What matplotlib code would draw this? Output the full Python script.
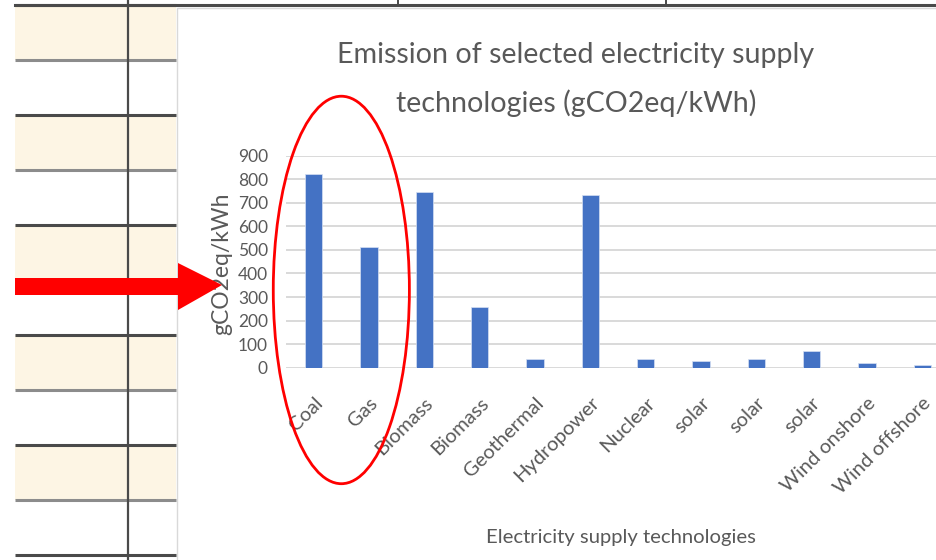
import matplotlib
matplotlib.use('Agg')
import matplotlib.pyplot as plt
from matplotlib.patches import Rectangle, Polygon, Ellipse

# data
technologies = ['Coal', 'Gas', 'Biomass', 'Biomass', 'Geothermal', 'Hydropower',
                'Nuclear', 'solar', 'solar', 'solar', 'Wind onshore', 'Wind offshore']
emissions = [823, 513, 744, 258, 37, 734, 37, 28, 37, 72, 20, 10]
y_ticks = [0, 100, 200, 300, 400, 500, 600, 700, 800, 900]

text_col = '#595959'
bar_col = '#4472C4'
plt.rcParams['font.family'] = ['Lato', 'DejaVu Sans']

fig = plt.figure(figsize=(9.36, 5.6), dpi=100)

# spreadsheet behind the chart (pixel coords)
bg = fig.add_axes([0, 0, 1, 1], zorder=0)
bg.set_xlim(0, 936)
bg.set_ylim(560, 0)
bg.axis('off')
for i in range(10):
    y0 = 5 + 55 * i
    if i % 2 == 0:
        bg.add_patch(Rectangle((15, y0), 161, 55, color='#FDF5E4', lw=0))
for i in range(11):
    y0 = 5 + 55 * i
    col = '#4a4a4a' if i % 2 == 0 else '#8c8c8c'
    bg.plot([15, 176], [y0, y0], color=col, lw=2.2, solid_capstyle='butt')
bg.plot([128, 128], [0, 560], color='#4a4a4a', lw=1.6)
bg.plot([15, 936], [5, 5], color='#4a4a4a', lw=2.2)
for xv in [398, 666]:
    bg.plot([xv, xv], [0, 5], color='#4a4a4a', lw=1.4)
bg.add_patch(Rectangle((177, 8), 770, 560, facecolor='white', edgecolor='#d9d9d9', lw=1))

# the chart itself
ax = fig.add_axes([286 / 936, 1 - 367.7 / 560, 664 / 936, (367.7 - 155.7) / 560], zorder=1)
ax.patch.set_alpha(0)
x = range(len(technologies))
ax.bar(x, emissions, width=0.31, color=bar_col, edgecolor='#d6e0f3', linewidth=0.5, zorder=3)
ax.set_xlim(-0.5, len(technologies) - 0.5)
ax.set_ylim(0, 900)
ax.set_yticks(y_ticks)
ax.grid(axis='y', color='#d9d9d9', lw=1.4, zorder=0)
for s in ax.spines.values():
    s.set_visible(False)
ax.tick_params(axis='y', length=0, pad=13, labelsize=12.5, labelcolor=text_col)
ax.tick_params(axis='x', length=0, pad=19, labelsize=14.5, labelcolor=text_col)
ax.set_xticks(list(x))
ax.set_xticklabels(technologies, rotation=45, ha='right', rotation_mode='anchor')

fig.text(222 / 936, 1 - 264 / 560, 'gCO2eq/kWh', rotation=90, ha='center', va='center',
         fontsize=16.5, color=text_col)
fig.text(621 / 936, 1 - 538 / 560, 'Electricity supply technologies', ha='center', va='center',
         fontsize=14.6, color=text_col)
fig.text(576 / 936, 1 - 55 / 560, 'Emission of selected electricity supply', ha='center',
         va='center', fontsize=20.6, color=text_col)
fig.text(576 / 936, 1 - 103 / 560, 'technologies (gCO2eq/kWh)', ha='center',
         va='center', fontsize=20.6, color=text_col)

# red circle around Coal and Gas
ax.add_patch(Ellipse((0.5, 330), 2.46, 1645, fill=False, edgecolor='#FF0000', lw=2,
                     clip_on=False, zorder=6))

# red arrow pointing at the axis label
ov = fig.add_axes([0, 0, 1, 1], zorder=10)
ov.set_xlim(0, 936)
ov.set_ylim(560, 0)
ov.axis('off')
ov.add_patch(Polygon([(15, 278), (178, 278), (178, 263), (222, 285), (178, 310),
                      (178, 295), (15, 295)], closed=True, color='#FF0000', lw=0))

fig.savefig('out.png', dpi=100)
